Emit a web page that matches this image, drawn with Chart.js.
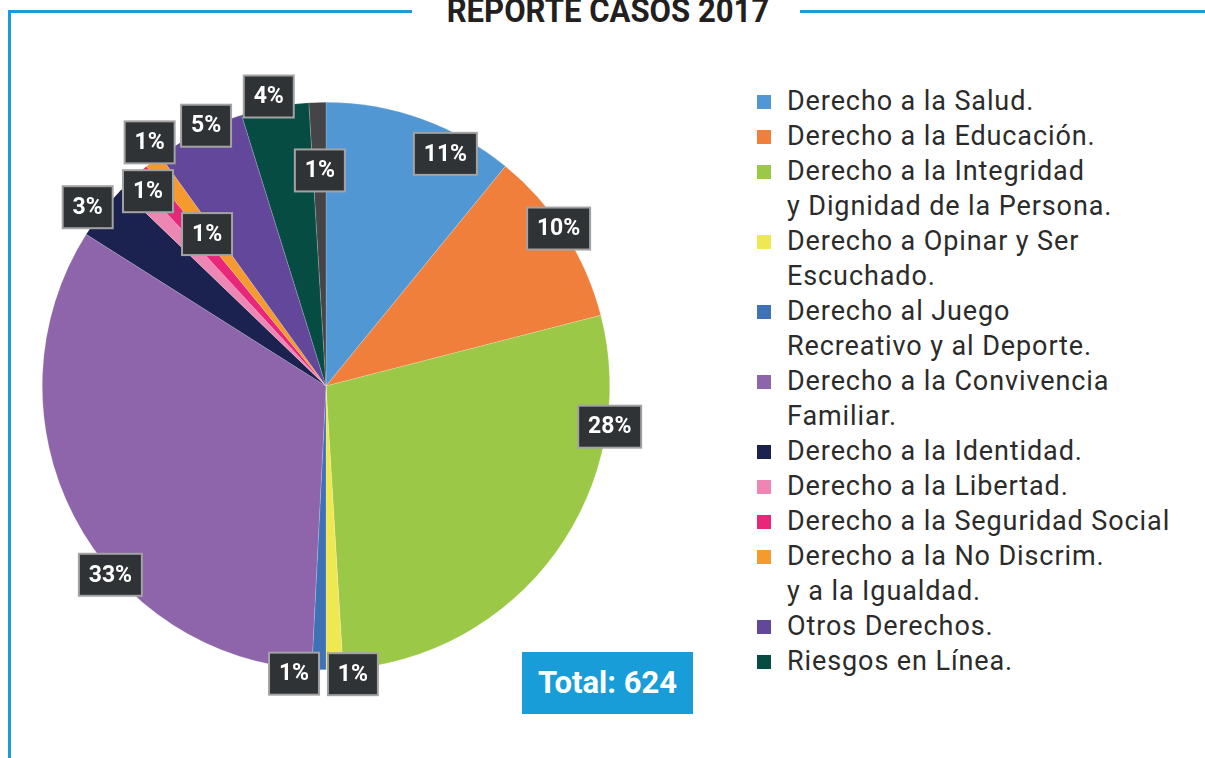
<!DOCTYPE html>
<html lang="es">
<head>
<meta charset="utf-8">
<title>Reporte casos 2017</title>
<script src="https://cdn.jsdelivr.net/npm/chart.js@4.4.1/dist/chart.umd.min.js"></script>
<style>
  html, body { margin: 0; padding: 0; background: #fff; }
  body { width: 1205px; height: 758px; position: relative; overflow: hidden; font-family: Roboto, "Open Sans", sans-serif; }
  .frame { position: absolute; background: #1a9bd7; }
  #title { position: absolute; left: 408px; width: 400px; top: -7px; text-align: center; font: bold 34px/34px Roboto; color: #231f20; transform: scaleX(0.915); white-space: nowrap; }
  #chart-box { position: absolute; left: 0; top: 60px; width: 652px; height: 652px; }
  #legend { position: absolute; left: 757px; top: 84px; margin: 0; padding: 0; list-style: none; font-size: 27px; line-height: 35px; letter-spacing: 0.9px; color: #2b2b2b; }
  #legend li { position: relative; padding-left: 30px; white-space: pre-line; }
  #legend li .sw { position: absolute; left: 0; top: 11px; width: 14px; height: 14px; }
  #total { position: absolute; left: 522px; top: 652px; width: 171px; height: 62px; background: #189dd8; color: #fff; font: bold 31px Roboto; line-height: 62px; text-align: center; }
</style>
</head>
<body>
<div class="frame" style="left:8px; top:10px; width:404px; height:3px;"></div>
<div class="frame" style="left:800px; top:10px; width:405px; height:3px;"></div>
<div class="frame" style="left:8px; top:10px; width:3px; height:760px;"></div>
<div id="title">REPORTE CASOS 2017</div>
<div id="chart-box"><canvas id="pie" width="652" height="652"></canvas></div>
<ul id="legend"></ul>
<div id="total"></div>

<script>
// categories (the last, grey slice has no legend entry in the original)
const categories = [
  "Derecho a la Salud.",
  "Derecho a la Educación.",
  "Derecho a la Integridad\ny Dignidad de la Persona.",
  "Derecho a Opinar y Ser\nEscuchado.",
  "Derecho al Juego\nRecreativo y al Deporte.",
  "Derecho a la Convivencia\nFamiliar.",
  "Derecho a la Identidad.",
  "Derecho a la Libertad.",
  "Derecho a la Seguridad Social",
  "Derecho a la No Discrim.\ny a la Igualdad.",
  "Otros Derechos.",
  "Riesgos en Línea.",
  ""
];

// number of cases per category (total 624)
const cases = [68, 63, 175, 6, 5, 207, 20, 6, 6, 6, 32, 24, 6];

const colors = [
  "#5197d3", "#f07f3c", "#9bc847", "#efe852", "#3e71b6", "#8e64ab",
  "#1b2250", "#ee86b4", "#e8277a", "#f59a2f", "#62479b", "#064c42", "#454547"
];

// where each percentage box sits: radius as fraction of the pie, angle shift in degrees
const labelRadius = [0.92, 0.99, 1.01, 1.02, 1.02, 1.01, 1.05, 0.93, 0.68, 1.06, 1.01, 1.04, 0.76];
const labelShift = [7.6, -1.5, -27.9, -3.6, 4.9, -13.8, -1.2, 2.0, 2.9, 1.6, 1.8, -0.8, 0.1];

const total = cases.reduce((a, b) => a + b, 0);

const sliceLabels = {
  id: "sliceLabels",
  afterDatasetsDraw(chart) {
    const ctx = chart.ctx;
    const meta = chart.getDatasetMeta(0);
    const values = chart.data.datasets[0].data;
    ctx.save();
    ctx.font = "bold 23px Roboto";
    ctx.textAlign = "center";
    ctx.textBaseline = "middle";
    meta.data.forEach((arc, i) => {
      const angle = (arc.startAngle + arc.endAngle) / 2 + labelShift[i] * Math.PI / 180;
      const r = arc.outerRadius * labelRadius[i];
      const x = arc.x + Math.cos(angle) * r;
      const y = arc.y + Math.sin(angle) * r;
      const text = Math.round(values[i] / total * 100) + "%";
      const w = Math.round(ctx.measureText(text).width + 20);
      const h = 42;
      ctx.fillStyle = "#2f3336";
      ctx.fillRect(x - w / 2, y - h / 2, w, h);
      ctx.strokeStyle = "#a3a3a3";
      ctx.lineWidth = 2;
      ctx.strokeRect(x - w / 2, y - h / 2, w, h);
      ctx.fillStyle = "#ffffff";
      ctx.fillText(text, x, y + 1);
    });
    ctx.restore();
  }
};

new Chart(document.getElementById("pie"), {
  type: "pie",
  data: {
    labels: categories,
    datasets: [
      {
        data: cases,
        backgroundColor: colors,
        borderColor: "rgba(255,255,255,0.35)",
        borderWidth: 0.5,
      },
    ],
  },
  options: {
    responsive: false,
    animation: false,
    layout: { padding: 42 },
    plugins: {
      legend: { display: false },
      tooltip: { enabled: false },
    },
  },
  plugins: [sliceLabels],
});

const legend = document.getElementById("legend");
categories.forEach((name, i) => {
  if (!name) return;
  const li = document.createElement("li");
  const sw = document.createElement("span");
  sw.className = "sw";
  sw.style.background = colors[i];
  li.appendChild(sw);
  li.appendChild(document.createTextNode(name));
  legend.appendChild(li);
});

document.getElementById("total").textContent = "Total: " + total;
</script>
</body>
</html>
